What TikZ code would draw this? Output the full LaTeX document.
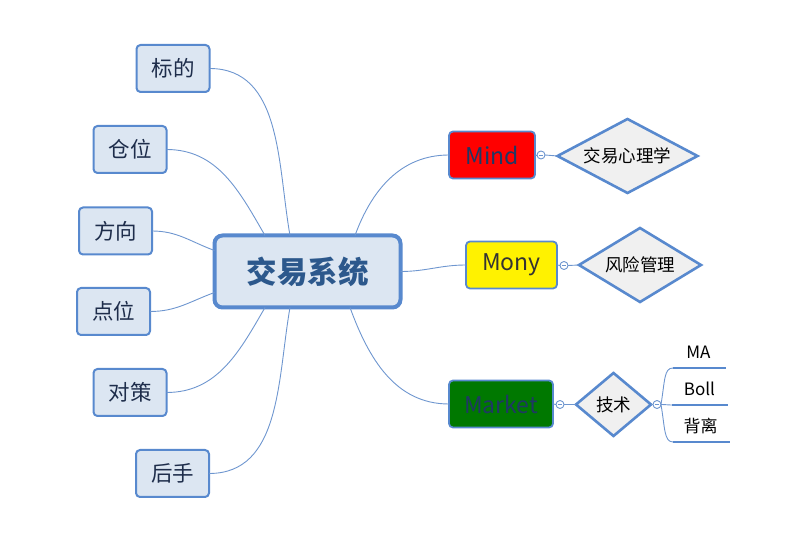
\documentclass[tikz,border=0pt]{standalone}
\usepackage{fontspec}
\setmainfont{Noto Sans CJK SC}
\usetikzlibrary{shapes.geometric}
\definecolor{bord}{RGB}{88,137,206}
\definecolor{conn}{RGB}{110,150,207}
\definecolor{nfill}{RGB}{220,230,242}
\definecolor{ntext}{RGB}{30,45,75}
\definecolor{ctext}{RGB}{44,88,140}
\definecolor{dfill}{RGB}{240,240,240}
\definecolor{mtext}{RGB}{31,56,100}
\definecolor{gfill}{RGB}{0,120,0}
\tikzset{
  leaf/.style={draw=bord, line width=2pt, fill=nfill, rounded corners=4pt, minimum width=73pt, minimum height=47pt, inner sep=0pt, outer sep=0pt, text=ntext, font=\fontsize{21.5}{23}\selectfont},
  mainbox/.style={draw=bord, line width=4pt, fill=nfill, rounded corners=8pt, minimum width=186pt, minimum height=72pt, inner sep=0pt, outer sep=0pt, text=ctext, font=\fontsize{30.5}{32}\selectfont\bfseries},
  topic/.style={draw=bord, line width=1.8pt, rounded corners=4pt, minimum height=47pt, inner sep=0pt, outer sep=0pt, font=\fontsize{23}{25}\selectfont},
  dia/.style={diamond, draw=bord, line width=2.6pt, fill=dfill, inner sep=0pt, outer sep=0pt, font=\fontsize{17.5}{19}\selectfont},
  conline/.style={draw=conn, line width=0.9pt},
  knob/.style={circle, draw=conn, fill=white, line width=0.9pt, minimum size=8pt, inner sep=0pt, outer sep=0pt},
  uline/.style={draw=bord, line width=2.6pt},
  sub/.style={font=\fontsize{17}{19}\selectfont, inner sep=0pt}
}
\begin{document}
\begin{tikzpicture}[x=1pt,y=-1pt]
\useasboundingbox (0,0) rectangle (788,534);
% central
\node[mainbox] (c) at (307.5,271.5) {交易系统};
% left leaves
\node[leaf] (b1) at (173,68.5) {标的};
\node[leaf] (b2) at (130,149.5) {仓位};
\node[leaf] (b3) at (115.5,231) {方向};
\node[leaf] (b4) at (113.5,311.5) {点位};
\node[leaf] (b5) at (130,392.5) {对策};
\node[leaf] (b6) at (172.5,473.5) {后手};
\draw[conline] (b1.east) to[out=0,in=100] ([xshift=-17.5pt]c.north);
\draw[conline] (b2.east) to[out=0,in=120] ([xshift=-42.5pt]c.north);
\draw[conline] (b3.east) to[out=0,in=160] ([yshift=21pt]c.west);
\draw[conline] (b4.east) to[out=0,in=200] ([yshift=-21pt]c.west);
\draw[conline] (b5.east) to[out=0,in=-120] ([xshift=-42.5pt]c.south);
\draw[conline] (b6.east) to[out=0,in=-100] ([xshift=-17.5pt]c.south);
% right topics
\node[topic, fill=red, text=mtext, minimum width=86pt] (m1) at (492,155) {Mind};
\node[topic, fill=yellow, text=black!80, minimum width=91pt] (m2) at (511.5,265) {Mony};
\node[topic, fill=gfill, text=mtext, minimum width=104pt] (m3) at (501,404) {Market};
\draw[conline] ([xshift=47.5pt]c.north) to[out=70,in=180] (m1.west);
\draw[conline] (c.east) to[out=0,in=180] (m2.west);
\draw[conline] ([xshift=42.5pt]c.south) to[out=-70,in=180] (m3.west);
% diamonds
\node[dia, aspect=1.89, minimum width=140pt, minimum height=74pt] (d1) at (627.5,156) {交易心理学};
\node[dia, aspect=1.65, minimum width=122pt, minimum height=74pt] (d2) at (640,265) {风险管理};
\node[dia, aspect=1.19, minimum width=75pt, minimum height=63pt] (d3) at (613.5,404.5) {技术};
\node[knob] (k1) at (541,155) {};
\node[knob] (k2) at (564,265.5) {};
\node[knob] (k3) at (560,404.5) {};
\node[knob] (k4) at (657,404.5) {};
\foreach \k in {k1,k2,k3,k4}{\draw[conn, line width=0.8pt] ([xshift=-2.2pt]\k.center) -- ([xshift=2.2pt]\k.center);}
\draw[conline] (m1.east) -- (k1.west);
\draw[conline] (k1.east) -- (d1.west);
\draw[conline] (m2.east) -- (k2.west);
\draw[conline] (k2.east) -- (d2.west);
\draw[conline] (m3.east) -- (k3.west);
\draw[conline] (k3.east) -- (d3.west);
\draw[conline] (d3.east) -- (k4.west);
% sub-branches
\coordinate (u1) at (673,368);
\coordinate (u2) at (672,405);
\coordinate (u3) at (673,442);
\coordinate (u1e) at (726,368);
\coordinate (u2e) at (728,405);
\coordinate (u3e) at (730,442);
\draw[conline] (k4.east) to[out=0,in=180] (u2);
\draw[conline] (k4.east) .. controls (665,380) and (664,368) .. (u1);
\draw[conline] (k4.east) .. controls (665,428) and (664,442) .. (u3);
\draw[uline] (u1) -- (u1e);
\draw[uline] (u2) -- (u2e);
\draw[uline] (u3) -- (u3e);
\node[sub] (t1) at (698.5,352.5) {MA};
\node[sub] (t2) at (699.5,388.5) {Boll};
\node[sub] (t3) at (700.5,426) {背离};
\end{tikzpicture}
\end{document}
